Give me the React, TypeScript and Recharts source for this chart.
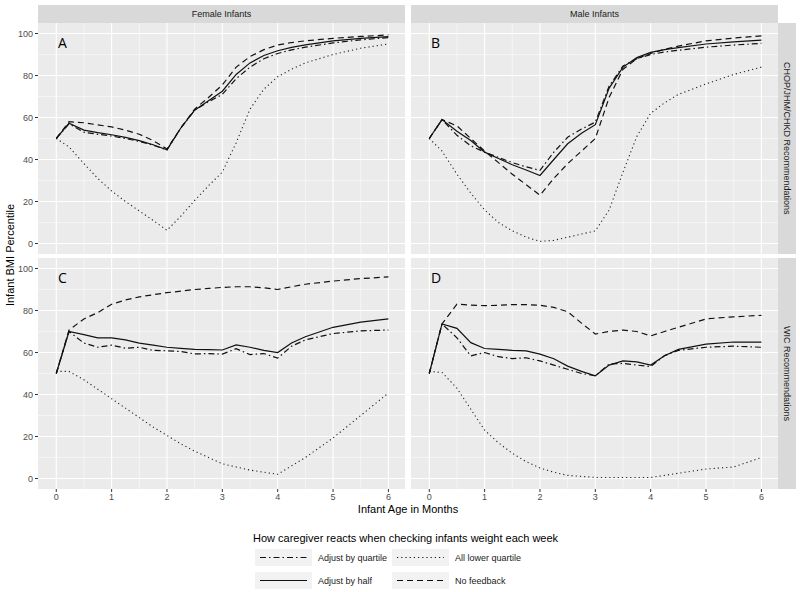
import { LineChart, Line, XAxis, YAxis, CartesianGrid } from 'recharts';

// infant age in months (shared x for all panels)
const months = [0, 0.23, 0.5, 0.75, 1, 1.25, 1.5, 1.75, 2, 2.25, 2.5, 2.75, 3, 3.25, 3.5, 3.75, 4, 4.25, 4.5, 5, 5.5, 6];
const xTicks = [0, 1, 2, 3, 4, 5, 6];
const yTicks = [0, 20, 40, 60, 80, 100];
const xMinor = [0.5, 1.5, 2.5, 3.5, 4.5, 5.5];
const yMinor = [10, 30, 50, 70, 90];

// A: female, CHOP/JHM/CHKD
const aQuartile = [50, 57, 53, 52, 51.2, 50, 48.6, 46.8, 44.5, 55, 63.5, 67.5, 71, 78.5, 84, 88, 90.5, 92.2, 93.5, 95.5, 97, 98];
const aHalf = [50, 57.3, 54, 52.8, 51.8, 50.5, 49, 47, 44.6, 55, 63.5, 68, 72.5, 80.5, 86, 89.5, 91.8, 93.4, 94.6, 96.5, 97.7, 98.5];
const aLower = [50, 46, 38, 31, 25, 20, 15.5, 11, 6.3, 13, 20.5, 27.5, 34, 48, 64, 73.5, 79.4, 83, 86, 90, 93, 95];
const aNone = [50, 58, 57.5, 56.5, 55.5, 54, 52, 49, 45, 55, 64, 69.5, 75.5, 84, 89, 92.3, 94.5, 95.7, 96.5, 97.7, 98.6, 99.3];

// B: male, CHOP/JHM/CHKD
const bQuartile = [50, 59, 51.5, 46.5, 43.5, 41, 38.5, 36.5, 34.8, 43.5, 50.6, 54.5, 57.8, 75, 84.5, 88, 90, 91.2, 92, 93.5, 94.5, 95.3];
const bHalf = [50, 59, 53.5, 49, 43.5, 40.5, 37.5, 35, 32.4, 40, 47.5, 52.5, 56.6, 74, 84, 88.5, 91, 92.3, 93.3, 95, 96, 96.8];
const bLower = [50, 44, 33, 24, 16, 10, 6, 3, 1, 1.5, 3, 4.5, 6, 16, 34, 51, 62, 67, 71, 76, 80.5, 84];
const bNone = [50, 59, 56, 50, 44, 38.5, 33, 28, 23, 31, 38, 44, 50, 69.6, 83, 88, 90.5, 92.5, 94, 96.5, 97.8, 98.9];

// C: female, WIC
const cQuartile = [50, 70, 64.5, 62.5, 63.5, 62, 62.5, 61, 60.8, 60.5, 59.3, 59.5, 59.2, 61.8, 59, 59.5, 57.3, 63, 66, 69, 70.3, 70.7];
const cHalf = [50, 70, 68.5, 67, 67, 66, 64.5, 63.5, 62.5, 62, 61.5, 61.4, 61.2, 63.6, 62.5, 61, 60, 64.5, 67.5, 72, 74.5, 76];
const cLower = [51, 51, 47, 42.5, 38, 33.5, 29, 24.5, 20.5, 16.5, 13, 10, 7, 5.5, 4, 3, 2, 6, 10, 19.3, 30, 40.7];
const cNone = [50, 70.7, 76, 79, 83, 85, 86.5, 87.5, 88.5, 89.2, 90, 90.5, 91, 91.3, 91.3, 90.8, 90, 91.3, 92.5, 94, 95.2, 96];

// D: male, WIC
const dQuartile = [50, 73.6, 67, 58.4, 60, 58, 57.1, 57.5, 56, 54, 52, 50, 48.9, 54.5, 54.8, 54, 53.3, 58.5, 61, 62.5, 63, 62.5];
const dHalf = [50, 73.6, 71.5, 64.7, 61.9, 61.5, 61, 60.8, 59.2, 57, 53.5, 51, 48.9, 54, 56, 55.5, 54, 58.5, 61.5, 64, 65, 64.9];
const dLower = [51, 50.5, 43, 33, 23, 17, 12, 8, 5, 3, 1.5, 1, 0.5, 0.5, 0.5, 0.5, 0.5, 1.5, 2.5, 4.5, 5.5, 10];
const dNone = [50, 73.6, 83, 82.6, 82.3, 82.5, 82.8, 82.8, 82.5, 81.5, 79.4, 74, 68.8, 70, 70.7, 70, 67.9, 70, 72, 76, 77, 77.7];

const dash = {
  quartile: '6 3 1.5 3',
  half: '',
  lower: '1.2 3',
  none: '6 4',
};

const FONT = '"Liberation Sans", Arial, sans-serif';
const PW = 367;
const PH = 231;

interface PanelProps {
  label: string;
  quartile: number[];
  half: number[];
  lower: number[];
  none: number[];
  x: number;
  y: number;
  showX?: boolean;
  showY?: boolean;
}

const Panel = ({ label, quartile, half, lower, none, x, y, showX = false, showY = false }: PanelProps) => {
  const data = months.map((m, i) => ({ month: m, quartile: quartile[i], half: half[i], lower: lower[i], none: none[i] }));
  const yW = 30;
  const xH = 20;
  const margin = {
    top: y,
    left: x - (showY ? yW : 0),
    right: 800 - x - PW,
    bottom: 592 - y - PH - (showX ? xH : 0),
  };
  const tick = { fill: '#4D4D4D', fontSize: 9, fontFamily: FONT };
  return (
    <>
      <div style={{ position: 'absolute', left: 0, top: 0 }}>
        <LineChart width={800} height={592} data={data} margin={margin}>
          <CartesianGrid fill="#EBEBEB" stroke="#fff" strokeWidth={0.5} verticalValues={xMinor} horizontalValues={yMinor} />
          <CartesianGrid stroke="#fff" strokeWidth={1.1} verticalValues={xTicks} horizontalValues={yTicks} />
          <XAxis type="number" dataKey="month" domain={[-0.33, 6.3]} allowDataOverflow ticks={xTicks}
            hide={!showX} height={xH} axisLine={false} tickSize={3} tickMargin={2}
            tickLine={{ stroke: '#333' }} tick={tick} />
          <YAxis type="number" domain={[-5, 105]} allowDataOverflow ticks={yTicks}
            hide={!showY} width={yW} axisLine={false} tickSize={3} tickMargin={2}
            tickLine={{ stroke: '#333' }} tick={tick} />
          <Line type="linear" dataKey="lower" stroke="#222" strokeWidth={1.1} strokeDasharray={dash.lower} dot={false} isAnimationActive={false} />
          <Line type="linear" dataKey="none" stroke="#111" strokeWidth={1.2} strokeDasharray={dash.none} dot={false} isAnimationActive={false} />
          <Line type="linear" dataKey="quartile" stroke="#111" strokeWidth={1.2} strokeDasharray={dash.quartile} dot={false} isAnimationActive={false} />
          <Line type="linear" dataKey="half" stroke="#111" strokeWidth={1.2} dot={false} isAnimationActive={false} />
        </LineChart>
      </div>
      <div style={{ position: 'absolute', left: x + 20, top: y + 10, fontSize: 14, fontFamily: '"Open Sans", sans-serif', color: '#000' }}>
        {label}
      </div>
    </>
  );
};

const LegendKey = ({ name, pattern, left, top }: { name: string; pattern: string; left: number; top: number }) => (
  <div style={{ position: 'absolute', left, top, height: 17, display: 'flex', alignItems: 'center' }}>
    <svg width={57} height={17} style={{ background: '#F2F2F2' }}>
      <line x1={5} x2={52} y1={8.5} y2={8.5} stroke="#111" strokeWidth={1.2} strokeDasharray={pattern} />
    </svg>
    <span style={{ marginLeft: 6, fontSize: 9, color: '#1A1A1A', fontFamily: FONT }}>{name}</span>
  </div>
);

export default function App() {
  const strip = { position: 'absolute' as const, background: '#D9D9D9', color: '#1A1A1A', fontSize: 9, fontFamily: FONT, display: 'flex', alignItems: 'center', justifyContent: 'center' };
  return (
    <div style={{ position: 'absolute', left: 0, top: 0, width: 800, height: 592, background: '#fff', overflow: 'hidden' }}>
      <Panel label="A" quartile={aQuartile} half={aHalf} lower={aLower} none={aNone} x={38} y={23} showY />
      <Panel label="B" quartile={bQuartile} half={bHalf} lower={bLower} none={bNone} x={411} y={23} />
      <Panel label="C" quartile={cQuartile} half={cHalf} lower={cLower} none={cNone} x={38} y={258} showX showY />
      <Panel label="D" quartile={dQuartile} half={dHalf} lower={dLower} none={dNone} x={411} y={258} showX />

      <div style={{ ...strip, left: 38, top: 5, width: PW, height: 18 }}>Female Infants</div>
      <div style={{ ...strip, left: 411, top: 5, width: PW, height: 18 }}>Male Infants</div>
      <div style={{ ...strip, left: 778, top: 23, width: 18, height: PH, writingMode: 'vertical-rl' }}>CHOP/JHM/CHKD Recommendations</div>
      <div style={{ ...strip, left: 778, top: 258, width: 18, height: PH, writingMode: 'vertical-rl' }}>WIC Recommendations</div>

      <div style={{ position: 'absolute', left: 10 - 100, top: 256 - 7, width: 200, textAlign: 'center', transform: 'rotate(-90deg)', fontSize: 11, fontFamily: FONT, color: '#000' }}>
        Infant BMI Percentile
      </div>
      <div style={{ position: 'absolute', left: 308, top: 503, width: 200, textAlign: 'center', fontSize: 11, fontFamily: FONT, color: '#000' }}>
        Infant Age in Months
      </div>

      <div style={{ position: 'absolute', left: 253, top: 532, fontSize: 11, fontFamily: FONT, color: '#000', whiteSpace: 'nowrap' }}>
        How caregiver reacts when checking infants weight each week
      </div>
      <LegendKey name="Adjust by quartile" pattern={dash.quartile} left={255} top={549} />
      <LegendKey name="All lower quartile" pattern={dash.lower} left={392} top={549} />
      <LegendKey name="Adjust by half" pattern={dash.half} left={255} top={572} />
      <LegendKey name="No feedback" pattern={dash.none} left={392} top={572} />
    </div>
  );
}
